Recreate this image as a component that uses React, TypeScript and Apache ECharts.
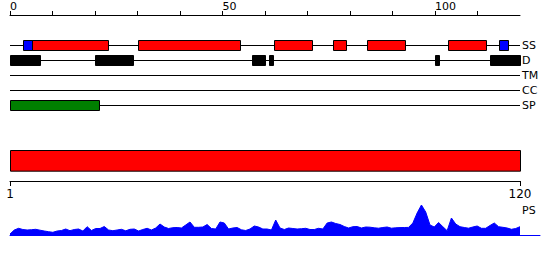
import React, { useEffect, useRef } from "react";
import * as echarts from "echarts";

const tracks = ["SS", "D", "TM", "CC", "SP"];
const topTicks = [0, 10, 20, 30, 40, 50, 60, 70, 80, 90, 100, 110];
const topLabels = [0, 50, 100];
const bottomLabels = [1, 120];

// [start, end] in residue units
const ssHelix = [[5, 23], [30, 54], [62, 71], [76, 79], [84, 93], [103, 112]];
const ssStrand = [[3, 5], [115, 117]];
const disorder = [[0, 7], [20, 29], [57, 60], [61, 62], [100, 101], [113, 120]];
const signalPeptide = [[0, 21]];
const domain = [[1, 120]];

const psValues = [
  1, 5, 6.7, 5.5, 5, 5.3, 5.7, 4.8, 4, 3.3,
  2.7, 4, 4.5, 6, 4.3, 5.5, 6, 4, 8.3, 4.5,
  6.5, 6.5, 8.5, 5, 4.3, 5, 5.7, 4.2, 5.7, 6,
  4, 5.5, 6.7, 5, 7, 11, 8, 6.5, 7.3, 7.5,
  7, 10, 13, 7.7, 7.7, 8, 10.5, 6.5, 6, 13,
  12, 6, 7, 7.5, 5.2, 4.5, 6, 9, 8, 6,
  6, 5, 15, 7, 5.5, 7, 6.5, 6, 6.3, 6.7,
  5.5, 5.5, 6.7, 6, 12, 13, 11.5, 10.5, 8.5, 7,
  8.3, 8.5, 7, 8, 7.8, 7.2, 6.8, 7.5, 8, 6.8,
  7.2, 7.4, 7.5, 7.6, 12, 22, 30, 23, 10, 8,
  12.5, 8.3, 4.3, 17, 11, 8.3, 7.5, 6.8, 8, 9,
  6.7, 6.7, 9.5, 12, 8.3, 7.7, 7, 5.7, 6.5, 8.3,
];

const FONT = "DejaVu Sans";

function trackSeries(segs: number[][], track: number, color: string) {
  return {
    type: "custom",
    xAxisIndex: 0,
    yAxisIndex: 0,
    silent: true,
    data: segs.map((s) => [s[0], s[1], track]),
    encode: { x: [0, 1], y: 2 },
    renderItem: (params: any, api: any) => {
      const p0 = api.coord([api.value(0), api.value(2)]);
      const p1 = api.coord([api.value(1), api.value(2)]);
      return {
        type: "rect",
        shape: { x: Math.round(p0[0]) + 0.5, y: Math.round(p0[1]) - 4.5, width: Math.round(p1[0] - p0[0]), height: 10 },
        style: { fill: color, stroke: "#000", lineWidth: 1 },
      };
    },
  };
}

export default function App() {
  const ref = useRef<HTMLDivElement>(null);
  useEffect(() => {
    document.body.style.margin = "0";
    const chart = echarts.init(ref.current!, null, { renderer: "svg" });
    chart.setOption({
      animation: false,
      textStyle: { fontFamily: FONT },
      grid: [
        { left: 10, width: 510, top: 45, height: 60 },
        { left: 10, width: 510, top: 150, height: 31 },
        { left: 10, width: 530, top: 200, height: 35 },
      ],
      xAxis: [
        {
          gridIndex: 0,
          type: "value",
          min: 0,
          max: 120,
          position: "top",
          offset: 30,
          axisLine: { show: true, lineStyle: { color: "#000", width: 1 } },
          axisTick: { show: true, customValues: topTicks, length: 4, lineStyle: { color: "#000" } },
          axisLabel: { customValues: topLabels, align: "left", fontSize: 11, color: "#000", margin: 3, fontFamily: FONT },
          splitLine: { show: false },
        },
        {
          gridIndex: 1,
          type: "value",
          min: 1,
          max: 120,
          position: "bottom",
          axisLine: { show: true, lineStyle: { color: "#000", width: 1 } },
          axisTick: { show: true, customValues: bottomLabels, length: 5, lineStyle: { color: "#000" } },
          axisLabel: { customValues: bottomLabels, fontSize: 12, color: "#000", margin: 7, fontFamily: FONT },
          splitLine: { show: false },
        },
        {
          gridIndex: 2,
          type: "value",
          min: 1,
          max: 1 + 530 / (510 / 119),
          axisLine: { show: true, lineStyle: { color: "#0000ff", width: 1 } },
          axisTick: { show: false },
          axisLabel: { show: false },
          splitLine: { show: false },
        },
      ],
      yAxis: [
        {
          gridIndex: 0,
          type: "category",
          data: tracks,
          inverse: true,
          boundaryGap: false,
          position: "right",
          axisLine: { show: false },
          axisTick: { show: false },
          axisLabel: { fontSize: 11, color: "#000", margin: 2, fontFamily: FONT },
          splitLine: { show: true, lineStyle: { color: "#000", width: 1 } },
        },
        { gridIndex: 1, type: "value", min: 0, max: 3, show: false },
        { gridIndex: 2, type: "value", min: 0, max: 35, show: false },
      ],
      series: [
        trackSeries(ssHelix, 0, "#ff0000"),
        trackSeries(ssStrand, 0, "#0000ff"),
        trackSeries(disorder, 1, "#000000"),
        trackSeries(signalPeptide, 4, "#008000"),
        {
          type: "custom",
          xAxisIndex: 1,
          yAxisIndex: 1,
          silent: true,
          data: domain.map((d) => [d[0], d[1]]),
          encode: { x: [0, 1] },
          renderItem: (params: any, api: any) => {
            const p0 = api.coord([api.value(0), 3]);
            const p1 = api.coord([api.value(1), 1]);
            return {
              type: "rect",
              shape: { x: p0[0] + 0.5, y: Math.round(p0[1]) + 0.5, width: p1[0] - p0[0], height: p1[1] - p0[1] },
              style: { fill: "#ff0000", stroke: "#000", lineWidth: 1 },
            };
          },
        },
        {
          type: "line",
          xAxisIndex: 2,
          yAxisIndex: 2,
          silent: true,
          symbol: "none",
          data: psValues.map((v, i) => [i + 1, v]),
          lineStyle: { color: "#0000ff", width: 1 },
          areaStyle: { color: "#0000ff", opacity: 1 },
        },
      ],
      graphic: [
        {
          type: "text",
          left: 522,
          top: 205,
          style: { text: "PS", fontSize: 11, fill: "#000", fontFamily: FONT },
        },
      ],
    });
    return () => chart.dispose();
  }, []);
  return <div ref={ref} style={{ width: 550, height: 260 }} />;
}
